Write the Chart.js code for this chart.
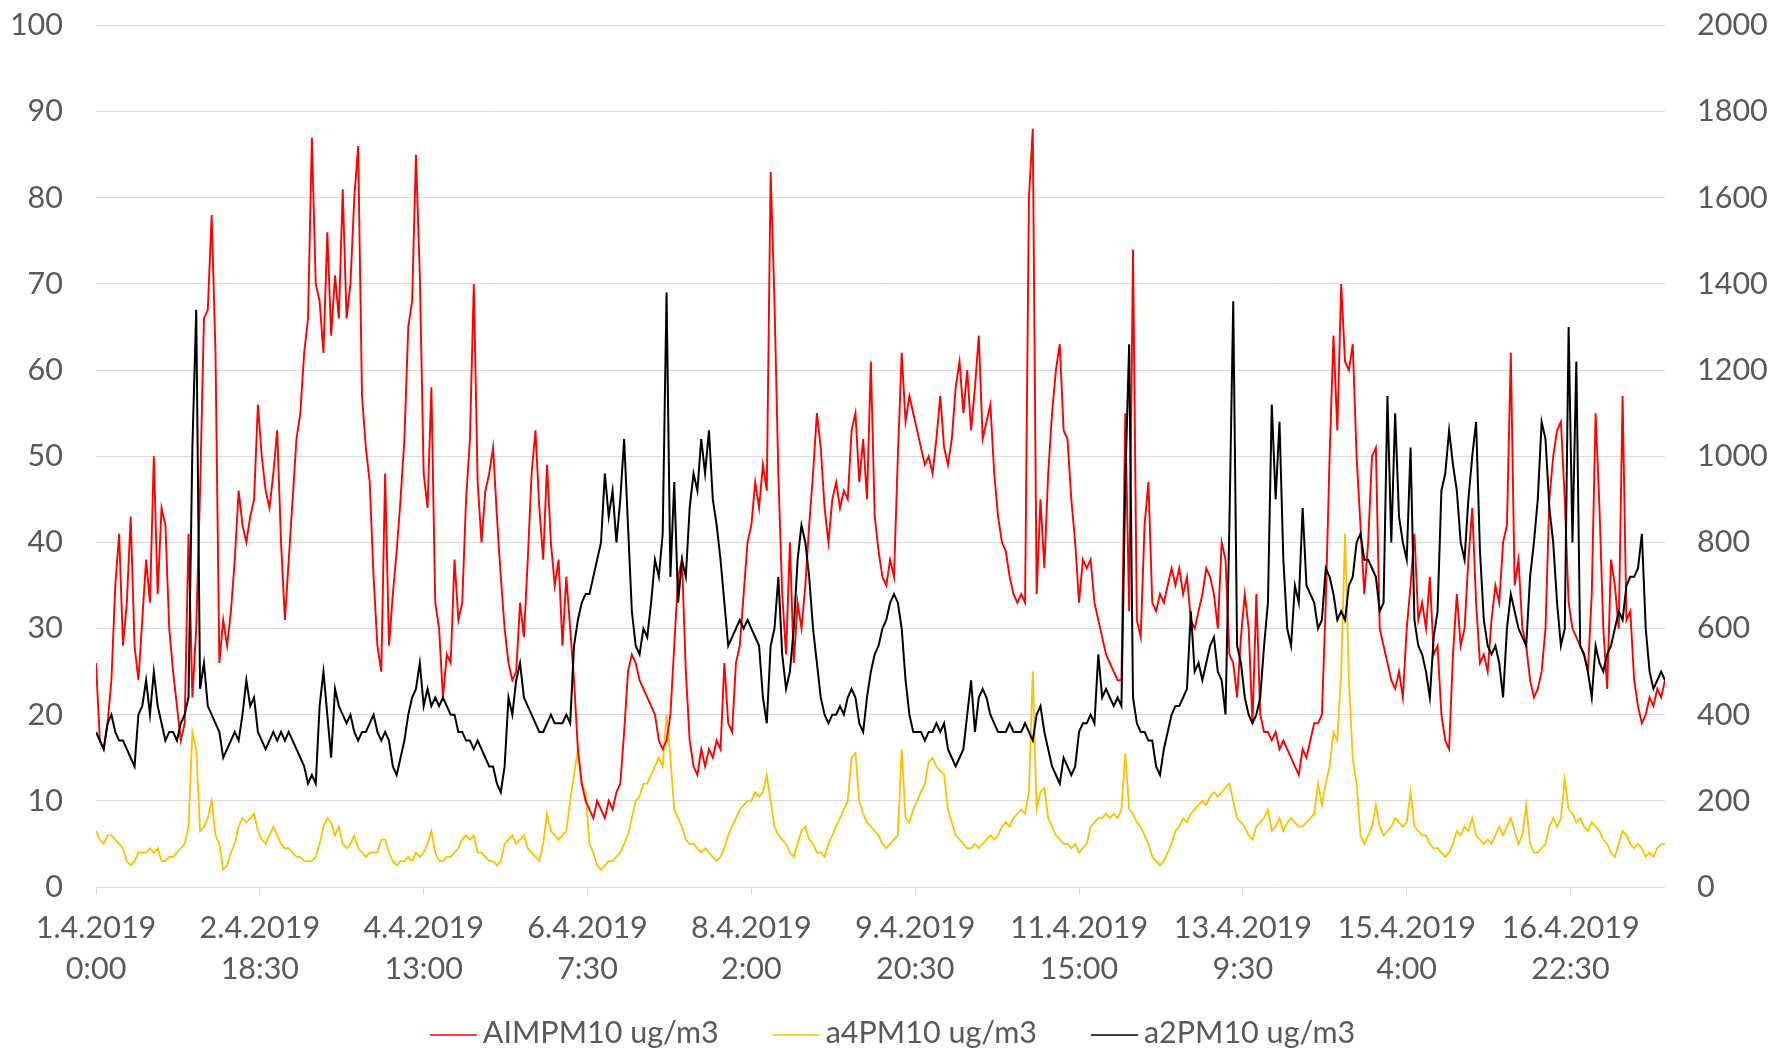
<!DOCTYPE html>
<html>
<head>
<meta charset="utf-8">
<title>PM10 1.4.2019 – 17.4.2019</title>
<script src="https://cdn.jsdelivr.net/npm/chart.js"></script>
<style>
  html, body { margin: 0; padding: 0; background: #ffffff; }
  #wrap { width: 1769px; height: 1050px; }
</style>
</head>
<body>
<div id="wrap"><canvas id="chart" width="1769" height="1050"></canvas></div>
<script>
// Hourly readings, hour 0 = 1.4.2019 0:00
const seriesNames = ['AIMPM10 ug/m3', 'a4PM10 ug/m3', 'a2PM10 ug/m3'];

const aimPm10 = [
  26, 17, 16, 19, 24, 35, 41, 28, 33, 43,
  28, 24, 31, 38, 33, 50, 34, 44, 42, 30,
  25, 21, 17, 19, 41, 22, 30, 46, 66, 67,
  78, 62, 26, 31, 28, 32, 38, 46, 42, 40,
  43, 45, 56, 50, 46, 44, 48, 53, 40, 31,
  38, 45, 52, 55, 62, 66, 87, 70, 68, 62,
  76, 64, 71, 66, 81, 66, 70, 80, 86, 57,
  51, 47, 36, 28, 25, 48, 28, 34, 39, 45,
  52, 65, 68, 85, 71, 48, 44, 58, 33, 30,
  22, 27, 26, 38, 31, 33, 45, 52, 70, 47,
  40, 46, 48, 51, 43, 36, 30, 26, 24, 25,
  33, 29, 38, 48, 53, 44, 38, 49, 40, 35,
  38, 28, 36, 30, 24, 16, 12, 10, 9, 8,
  10, 9, 8, 10, 9, 11, 12, 18, 25, 27,
  26, 24, 23, 22, 21, 20, 17, 16, 17, 20,
  28, 36, 38, 25, 17, 14, 13, 16, 14, 16,
  15, 17, 16, 26, 19, 18, 26, 28, 34, 40,
  42, 47, 44, 49, 46, 83, 68, 48, 34, 27,
  40, 26, 33, 30, 35, 42, 48, 55, 51, 44,
  40, 45, 47, 44, 46, 45, 53, 55, 47, 52,
  45, 61, 43, 39, 36, 35, 38, 36, 50, 62,
  54, 57, 55, 53, 51, 49, 50, 48, 52, 57,
  51, 49, 52, 58, 61, 55, 60, 53, 58, 64,
  52, 54, 56, 48, 43, 40, 39, 36, 34, 33,
  34, 33, 80, 88, 34, 45, 37, 48, 55, 60,
  63, 53, 52, 45, 40, 33, 38, 37, 38, 33,
  31, 29, 27, 26, 25, 24, 24, 55, 32, 74,
  31, 29, 42, 47, 33, 32, 34, 33, 35, 37,
  35, 37, 34, 36, 31, 30, 32, 34, 37, 36,
  34, 30, 40, 38, 27, 26, 22, 29, 34, 30,
  19, 34, 20, 18, 18, 17, 18, 16, 17, 16,
  15, 14, 13, 16, 15, 17, 19, 19, 20, 33,
  50, 64, 53, 70, 61, 60, 63, 50, 42, 34,
  40, 50, 51, 30, 28, 26, 24, 23, 25, 22,
  30, 35, 41, 31, 33, 30, 36, 27, 28, 20,
  17, 16, 27, 34, 28, 30, 38, 44, 33, 26,
  27, 25, 31, 35, 33, 40, 42, 62, 35, 38,
  30, 28, 24, 22, 23, 25, 30, 45, 50, 53,
  54, 45, 33, 30, 29, 28, 27, 25, 34, 55,
  44, 30, 23, 38, 35, 30, 57, 31, 32, 24,
  21, 19, 20, 22, 21, 23, 22, 24
];

const a4Pm10 = [
  6.5, 5.5, 5, 6, 6, 5.5, 5, 4.5, 3, 2.5,
  3, 4, 4, 4, 4.5, 4, 4.5, 3, 3, 3.5,
  3.5, 4, 4.5, 5, 7, 18, 16, 6.5, 7, 8,
  10, 6, 5, 2, 2.5, 4, 5, 7, 8, 7.5,
  8, 8.5, 6.5, 5.5, 5, 6, 7, 6, 5, 4.5,
  4.5, 4, 3.5, 3.5, 3, 3, 3, 3.5, 5, 7,
  8, 7.5, 6, 7, 5, 4.5, 5, 6, 4.5, 4,
  3.5, 4, 4, 4, 5.5, 5.5, 4, 3, 2.5, 3,
  3, 3.5, 3, 4, 3.5, 4, 5, 6.5, 4, 3,
  3, 3.5, 3.5, 4, 4.5, 5.5, 6, 5.5, 6, 4,
  4, 3.5, 3, 3, 2.5, 3, 5, 5.5, 6, 5,
  5.5, 6, 4.5, 4, 3.5, 3, 5, 8.5, 6.5, 6,
  5.5, 6, 6.5, 10, 13, 16, 12, 11, 5, 4,
  2.5, 2, 2.5, 3, 3, 3.5, 4, 5, 6, 8,
  10, 10.5, 12, 12, 13, 14, 15, 14, 20, 15,
  9, 8, 7, 5.5, 5, 5, 4.5, 4, 4.5, 4,
  3.5, 3, 3.5, 4.5, 6, 7, 8, 9, 9.5, 10,
  10, 11, 10.5, 11, 13, 10, 7, 6, 5.5, 5,
  4, 3.5, 5, 6.5, 7, 5.5, 5, 4, 4, 3.5,
  5, 6, 7, 8, 9, 10, 15, 15.5, 10, 8.5,
  7.5, 7, 6.5, 6, 5, 4.5, 5, 5.5, 6, 16,
  8, 7.5, 9, 10, 11, 12, 14.5, 15, 14, 13.5,
  13, 9, 7.5, 6, 5.5, 5, 4.5, 4.5, 5, 4.5,
  5, 5.5, 6, 5.5, 6, 7, 7.5, 7, 8, 8.5,
  9, 8.5, 11, 25, 9, 11, 11.5, 8, 7, 6,
  5.5, 5, 5, 4.5, 5, 4, 4.5, 5, 7, 7.5,
  8, 8, 8.5, 8, 8.5, 8, 9, 15.5, 9, 8.5,
  7.5, 7, 6, 5, 3.5, 3, 2.5, 3, 4, 5,
  6.5, 7, 8, 7.5, 8.5, 9, 9.5, 10, 9.5, 10.5,
  11, 10.5, 11, 11.5, 12, 10, 8, 7.5, 7, 6,
  5.5, 7, 7.5, 8, 9, 6.5, 7, 8, 6.5, 7.5,
  8, 7.5, 7, 7, 7.5, 8, 8.5, 12, 9.5, 12,
  14, 18, 17, 25, 41, 24, 15, 12, 6, 5,
  6, 7, 9.5, 7, 6, 6.5, 7, 8, 7.5, 7,
  7.5, 11, 7, 6.5, 6, 6, 5, 4.5, 4.5, 4,
  3.5, 4, 5, 6.5, 6, 7, 6.5, 8, 6, 5.5,
  5, 5.5, 5, 6, 7, 6, 7, 8, 6.5, 5,
  6, 9.5, 5, 4, 4, 4.5, 5, 7, 8, 7,
  8, 12.5, 9, 8.5, 7.5, 8, 7, 6.5, 7.5, 7,
  6.5, 5.5, 5, 4, 3.5, 5, 6.5, 6, 5, 4.5,
  5, 4.5, 3.5, 4, 3.5, 4.5, 5, 5
];

const a2Pm10 = [
  18, 17, 16, 19, 20, 18, 17, 17, 16, 15,
  14, 20, 21, 24, 20, 25, 21, 19, 17, 18,
  18, 17, 19, 20, 22, 51, 67, 23, 26, 21,
  20, 19, 18, 15, 16, 17, 18, 17, 20, 24,
  21, 22, 18, 17, 16, 17, 18, 17, 18, 17,
  18, 17, 16, 15, 14, 12, 13, 12, 21, 25,
  20, 15, 23, 21, 20, 19, 20, 18, 17, 18,
  18, 19, 20, 18, 17, 18, 17, 14, 13, 15,
  17, 20, 22, 23, 26, 21, 23, 21, 22, 21,
  22, 21, 20, 20, 18, 18, 17, 17, 16, 17,
  16, 15, 14, 14, 12, 11, 14, 22, 20, 24,
  26, 22, 21, 20, 19, 18, 18, 19, 20, 19,
  19, 19, 20, 19, 28, 31, 33, 34, 34, 36,
  38, 40, 48, 43, 46, 40, 45, 52, 42, 32,
  28, 27, 30, 29, 33, 38, 36, 41, 69, 36,
  47, 33, 38, 36, 44, 48, 46, 52, 48, 53,
  45, 42, 38, 33, 28, 29, 30, 31, 30, 31,
  30, 29, 28, 22, 19, 28, 30, 36, 27, 23,
  25, 30, 38, 42, 40, 36, 30, 26, 22, 20,
  19, 20, 20, 21, 20, 22, 23, 22, 19, 18,
  22, 25, 27, 28, 30, 31, 33, 34, 33, 30,
  24, 20, 18, 18, 18, 17, 18, 18, 19, 18,
  19, 16, 15, 14, 15, 16, 20, 24, 18, 22,
  23, 22, 20, 19, 18, 18, 18, 19, 18, 18,
  18, 19, 18, 17, 20, 21, 18, 16, 14, 13,
  12, 15, 14, 13, 14, 18, 19, 19, 20, 19,
  27, 22, 23, 22, 21, 22, 21, 47, 63, 22,
  19, 18, 18, 17, 17, 14, 13, 16, 18, 20,
  21, 21, 22, 23, 32, 25, 26, 24, 26, 28,
  29, 25, 24, 20, 42, 68, 28, 26, 22, 20,
  19, 20, 22, 28, 33, 56, 45, 54, 38, 30,
  28, 35, 33, 44, 35, 34, 33, 30, 31, 37,
  36, 34, 31, 32, 31, 35, 36, 40, 41, 38,
  38, 37, 36, 32, 33, 57, 40, 55, 43, 40,
  38, 51, 31, 28, 27, 25, 22, 29, 32, 46,
  48, 53, 49, 46, 40, 38, 45, 50, 54, 39,
  31, 28, 27, 28, 26, 22, 30, 34, 32, 30,
  29, 28, 36, 40, 45, 54, 52, 44, 40, 33,
  28, 30, 65, 40, 61, 28, 27, 25, 22, 28,
  26, 25, 27, 28, 30, 32, 31, 35, 36, 36,
  37, 41, 30, 25, 23, 24, 25, 24
];

// Axis labels every 42.5 hours
const tickStepHours = 42.5;
const tickLabels = [
  ['1.4.2019', '0:00'],
  ['2.4.2019', '18:30'],
  ['4.4.2019', '13:00'],
  ['6.4.2019', '7:30'],
  ['8.4.2019', '2:00'],
  ['9.4.2019', '20:30'],
  ['11.4.2019', '15:00'],
  ['13.4.2019', '9:30'],
  ['15.4.2019', '4:00'],
  ['16.4.2019', '22:30']
];

const toPoints = arr => arr.map((v, hour) => ({ x: hour, y: v }));

const fontSize = 30.5;
const tickFont = { family: 'Lato', size: fontSize };
const textColor = '#595959';

// Fixed outer sizes of the axes around the plot
const fixWidth = w => scale => {
  scale.width = w;
  scale.paddingTop = 0;
  scale.paddingBottom = 0;
};

// Legend drawn as short line samples followed by the series name
const lineLegend = {
  id: 'lineLegend',
  afterDraw(chart) {
    const ctx = chart.ctx;
    ctx.save();
    ctx.font = fontSize + 'px Lato';
    const sample = 47, textGap = 6, itemGap = 54;
    const items = chart.data.datasets.map(ds => ({
      label: ds.label, color: ds.borderColor, w: ctx.measureText(ds.label).width
    }));
    const total = items.reduce((s, it) => s + sample + textGap + it.w, 0) + itemGap * (items.length - 1);
    let x = (chart.width - total) / 2 + 8;
    const y = chart.height - 17;
    ctx.textBaseline = 'middle';
    ctx.textAlign = 'left';
    items.forEach(it => {
      ctx.strokeStyle = it.color;
      ctx.lineWidth = 1.5;
      ctx.beginPath();
      ctx.moveTo(x, y + 2);
      ctx.lineTo(x + sample, y + 2);
      ctx.stroke();
      ctx.fillStyle = textColor;
      ctx.fillText(it.label, x + sample + textGap, y);
      x += sample + textGap + it.w + itemGap;
    });
    ctx.restore();
  }
};

function draw() {
  new Chart(document.getElementById('chart'), {
    type: 'line',
    data: {
      datasets: [
        { label: seriesNames[0], data: toPoints(aimPm10), borderColor: '#FF0000', borderWidth: 1.9, order: 2 },
        { label: seriesNames[1], data: toPoints(a4Pm10), borderColor: '#FFC000', borderWidth: 1.8, order: 3 },
        { label: seriesNames[2], data: toPoints(a2Pm10), borderColor: '#000000', borderWidth: 2, order: 1 }
      ]
    },
    options: {
      responsive: false,
      animation: false,
      events: [],
      elements: {
        point: { radius: 0 },
        line: { tension: 0 }
      },
      layout: { padding: { top: 25.5, bottom: 50, left: 0, right: 0 } },
      scales: {
        x: {
          type: 'linear',
          min: 0,
          max: aimPm10.length - 1,
          afterBuildTicks: scale => {
            scale.ticks = tickLabels.map((_, i) => ({ value: i * tickStepHours }));
          },
          afterFit: scale => { scale.height = 113; },
          ticks: {
            autoSkip: false,
            maxRotation: 0,
            padding: 13,
            color: textColor,
            font: { family: 'Lato', size: fontSize, lineHeight: 41.5 / fontSize },
            callback: v => tickLabels[Math.round(v / tickStepHours)]
          },
          grid: { display: true, drawOnChartArea: false, drawTicks: true, tickLength: 7, color: '#D9D9D9' },
          border: { display: false }
        },
        y: {
          position: 'left',
          min: 0,
          max: 100,
          afterFit: fixWidth(96),
          ticks: { stepSize: 10, padding: 33, color: textColor, font: tickFont },
          grid: { color: '#D9D9D9', lineWidth: 1, drawTicks: false },
          border: { display: false }
        },
        y1: {
          position: 'right',
          min: 0,
          max: 2000,
          afterFit: fixWidth(104),
          ticks: { stepSize: 200, padding: 32, color: textColor, font: tickFont, callback: v => String(v) },
          grid: { drawOnChartArea: false, drawTicks: false },
          border: { display: false }
        }
      },
      plugins: {
        legend: { display: false },
        tooltip: { enabled: false }
      }
    },
    plugins: [lineLegend]
  });
}

if (document.fonts && document.fonts.load) {
  document.fonts.load(fontSize + 'px Lato').then(draw, draw);
} else {
  draw();
}
</script>
</body>
</html>
